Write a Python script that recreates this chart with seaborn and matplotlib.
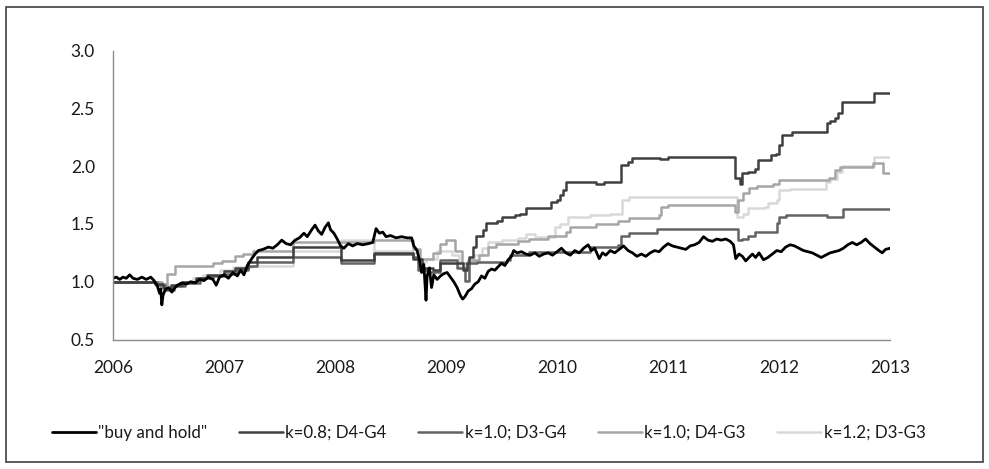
import matplotlib
matplotlib.use("Agg")
import matplotlib.pyplot as plt
import seaborn as sns
from matplotlib.patches import Rectangle

# "buy and hold" index (decimal year, value)
bh_years = [2006.00, 2006.03, 2006.06, 2006.09, 2006.12, 2006.15, 2006.18, 2006.22, 2006.26, 2006.30,
            2006.34, 2006.37, 2006.40, 2006.42, 2006.43, 2006.44, 2006.45, 2006.47, 2006.50, 2006.53,
            2006.55, 2006.58, 2006.62, 2006.66, 2006.70, 2006.74, 2006.78, 2006.82, 2006.86, 2006.90,
            2006.93, 2006.96, 2007.00, 2007.04, 2007.08, 2007.12, 2007.15, 2007.18, 2007.21, 2007.25,
            2007.28, 2007.31, 2007.35, 2007.40, 2007.44, 2007.48, 2007.52, 2007.56, 2007.60, 2007.64,
            2007.68, 2007.72, 2007.75, 2007.79, 2007.82, 2007.85, 2007.88, 2007.91, 2007.94, 2007.96,
            2007.99, 2008.02, 2008.05, 2008.08, 2008.12, 2008.16, 2008.20, 2008.25, 2008.30, 2008.34,
            2008.37, 2008.40, 2008.43, 2008.46, 2008.50, 2008.55, 2008.60, 2008.65, 2008.69, 2008.71,
            2008.74, 2008.76, 2008.78, 2008.80, 2008.82, 2008.83, 2008.85, 2008.87, 2008.89, 2008.92,
            2008.95, 2008.98, 2009.01, 2009.04, 2009.07, 2009.10, 2009.13, 2009.15, 2009.17, 2009.20,
            2009.23, 2009.26, 2009.29, 2009.32, 2009.35, 2009.38, 2009.41, 2009.44, 2009.47, 2009.50,
            2009.53, 2009.56, 2009.59, 2009.61, 2009.64, 2009.68, 2009.72, 2009.76, 2009.80, 2009.84,
            2009.88, 2009.92, 2009.96, 2010.00, 2010.04, 2010.08, 2010.12, 2010.16, 2010.20, 2010.24,
            2010.28, 2010.31, 2010.34, 2010.38, 2010.41, 2010.44, 2010.48, 2010.52, 2010.56, 2010.60,
            2010.64, 2010.68, 2010.72, 2010.76, 2010.80, 2010.84, 2010.88, 2010.92, 2010.96, 2011.00,
            2011.04, 2011.08, 2011.12, 2011.16, 2011.20, 2011.24, 2011.28, 2011.32, 2011.36, 2011.40,
            2011.44, 2011.48, 2011.52, 2011.56, 2011.59, 2011.61, 2011.64, 2011.67, 2011.70, 2011.73,
            2011.76, 2011.79, 2011.82, 2011.86, 2011.90, 2011.94, 2011.98, 2012.02, 2012.06, 2012.10,
            2012.14, 2012.18, 2012.22, 2012.26, 2012.30, 2012.34, 2012.38, 2012.42, 2012.46, 2012.50,
            2012.54, 2012.58, 2012.62, 2012.66, 2012.70, 2012.74, 2012.78, 2012.82, 2012.86, 2012.90,
            2012.93, 2012.96, 2013.00]
bh_values = [1.03, 1.04, 1.02, 1.04, 1.03, 1.06, 1.03, 1.02, 1.04, 1.02,
             1.04, 1.01, 0.96, 0.90, 0.94, 0.80, 0.88, 0.93, 0.95, 0.91,
             0.94, 0.97, 0.99, 0.98, 1.00, 0.99, 1.02, 1.01, 1.04, 1.02,
             0.97, 1.04, 1.06, 1.03, 1.08, 1.05, 1.10, 1.06, 1.14, 1.20,
             1.24, 1.27, 1.28, 1.30, 1.29, 1.32, 1.36, 1.33, 1.32, 1.36,
             1.38, 1.42, 1.39, 1.45, 1.49, 1.44, 1.41, 1.47, 1.51, 1.45,
             1.42, 1.37, 1.31, 1.29, 1.33, 1.31, 1.33, 1.32, 1.33, 1.34,
             1.46, 1.42, 1.43, 1.39, 1.40, 1.38, 1.39, 1.38, 1.38, 1.31,
             1.27, 1.19, 1.08, 1.15, 0.84, 1.05, 1.12, 0.95, 1.06, 1.02,
             1.05, 1.07, 1.08, 1.04, 1.00, 0.95, 0.88, 0.85, 0.87, 0.92,
             0.94, 0.98, 1.00, 1.05, 1.03, 1.09, 1.11, 1.10, 1.13, 1.16,
             1.14, 1.19, 1.22, 1.27, 1.25, 1.26, 1.24, 1.23, 1.25, 1.22,
             1.24, 1.25, 1.23, 1.26, 1.29, 1.25, 1.23, 1.27, 1.25, 1.29,
             1.32, 1.27, 1.29, 1.20, 1.25, 1.23, 1.27, 1.25, 1.28, 1.31,
             1.27, 1.25, 1.22, 1.24, 1.22, 1.25, 1.27, 1.26, 1.30, 1.33,
             1.31, 1.30, 1.29, 1.28, 1.31, 1.32, 1.34, 1.39, 1.36, 1.35,
             1.37, 1.36, 1.37, 1.35, 1.32, 1.20, 1.24, 1.22, 1.18, 1.21,
             1.24, 1.21, 1.25, 1.19, 1.21, 1.24, 1.27, 1.26, 1.30, 1.32,
             1.31, 1.29, 1.27, 1.26, 1.25, 1.23, 1.21, 1.23, 1.25, 1.26,
             1.27, 1.29, 1.32, 1.34, 1.32, 1.34, 1.37, 1.33, 1.30, 1.27,
             1.25, 1.28, 1.29]

# strategy curves: breakpoints of step functions (decimal year, value)
k08_d4g4_years = [2006.00, 2006.38, 2006.45, 2006.52, 2006.62, 2006.75, 2006.85, 2007.00, 2007.10, 2007.22,
                  2007.30, 2007.62, 2008.05, 2008.35, 2008.70, 2008.78, 2008.88, 2008.95, 2009.15, 2009.19,
                  2009.21, 2009.24, 2009.27, 2009.33, 2009.36, 2009.46, 2009.50, 2009.62, 2009.67, 2009.72,
                  2009.95, 2010.00, 2010.03, 2010.05, 2010.08, 2010.35, 2010.42, 2010.58, 2010.64, 2010.68,
                  2010.93, 2011.00, 2011.60, 2011.65, 2011.67, 2011.72, 2011.78, 2011.81, 2011.93, 2011.97,
                  2012.00, 2012.03, 2012.12, 2012.43, 2012.46, 2012.50, 2012.53, 2012.57, 2012.86, 2013.00]
k08_d4g4_values = [1.00, 0.98, 0.95, 0.97, 1.00, 1.03, 1.06, 1.09, 1.12, 1.17,
                   1.21, 1.30, 1.19, 1.25, 1.20, 1.12, 1.10, 1.16, 1.10, 1.16,
                   1.21, 1.30, 1.40, 1.45, 1.51, 1.53, 1.56, 1.58, 1.59, 1.64,
                   1.69, 1.71, 1.75, 1.79, 1.86, 1.85, 1.86, 2.01, 2.04, 2.07,
                   2.06, 2.08, 1.90, 1.85, 1.94, 1.95, 1.98, 2.05, 2.10, 2.11,
                   2.18, 2.27, 2.30, 2.37, 2.39, 2.42, 2.46, 2.56, 2.63, 2.63]

k10_d3g4_years = [2006.00, 2006.40, 2006.47, 2006.55, 2006.65, 2006.78, 2006.90, 2007.00, 2007.12, 2007.22,
                  2007.30, 2007.62, 2008.05, 2008.35, 2008.70, 2008.75, 2008.85, 2008.95, 2009.10, 2009.17,
                  2009.21, 2009.28, 2009.55, 2009.58, 2009.75, 2010.30, 2010.55, 2010.58, 2010.65, 2010.90,
                  2011.63, 2011.67, 2011.72, 2011.78, 2011.98, 2012.00, 2012.06, 2012.43, 2012.58, 2013.00]
k10_d3g4_values = [1.00, 0.97, 0.93, 0.96, 0.99, 1.03, 1.05, 1.07, 1.10, 1.14,
                   1.17, 1.21, 1.16, 1.24, 1.21, 1.10, 1.08, 1.19, 1.12, 1.01,
                   1.16, 1.17, 1.19, 1.23, 1.26, 1.30, 1.32, 1.40, 1.42, 1.46,
                   1.36, 1.37, 1.40, 1.43, 1.51, 1.56, 1.58, 1.56, 1.63, 1.63]

k10_d4g3_years = [2006.00, 2006.44, 2006.49, 2006.56, 2006.90, 2006.98, 2007.10, 2007.17, 2007.26, 2007.62,
                  2008.35, 2008.70, 2008.77, 2008.88, 2008.95, 2009.00, 2009.08, 2009.14, 2009.20, 2009.30,
                  2009.38, 2009.45, 2009.65, 2009.75, 2009.92, 2010.08, 2010.12, 2010.35, 2010.55, 2010.65,
                  2010.92, 2010.94, 2011.00, 2011.60, 2011.63, 2011.68, 2011.73, 2011.80, 2011.95, 2012.00,
                  2012.45, 2012.50, 2012.55, 2012.85, 2012.94, 2013.00]
k10_d4g3_values = [1.00, 0.98, 1.07, 1.14, 1.16, 1.18, 1.22, 1.24, 1.27, 1.34,
                   1.36, 1.28, 1.20, 1.25, 1.33, 1.36, 1.27, 1.16, 1.19, 1.23,
                   1.30, 1.33, 1.35, 1.37, 1.40, 1.43, 1.47, 1.50, 1.53, 1.55,
                   1.58, 1.65, 1.66, 1.60, 1.71, 1.77, 1.81, 1.83, 1.85, 1.88,
                   1.90, 1.97, 1.99, 2.03, 1.94, 1.94]

k12_d3g3_years = [2006.00, 2006.42, 2006.50, 2006.60, 2006.72, 2006.81, 2006.96, 2007.08, 2007.25, 2007.62,
                  2008.05, 2008.35, 2008.70, 2008.76, 2008.82, 2008.92, 2009.05, 2009.12, 2009.17, 2009.25,
                  2009.32, 2009.38, 2009.50, 2009.65, 2009.72, 2009.80, 2009.98, 2010.03, 2010.10, 2010.30,
                  2010.48, 2010.59, 2010.65, 2011.60, 2011.62, 2011.68, 2011.72, 2011.87, 2011.90, 2011.98,
                  2012.00, 2012.10, 2012.42, 2012.46, 2012.52, 2012.57, 2012.86, 2013.00]
k12_d3g3_values = [1.00, 0.97, 0.96, 0.99, 1.03, 1.06, 1.10, 1.13, 1.14, 1.27,
                   1.36, 1.27, 1.25, 1.17, 1.20, 1.27, 1.23, 1.12, 1.16, 1.23,
                   1.29, 1.34, 1.36, 1.38, 1.41, 1.39, 1.47, 1.50, 1.56, 1.58,
                   1.59, 1.71, 1.73, 1.73, 1.56, 1.59, 1.64, 1.65, 1.68, 1.71,
                   1.79, 1.80, 1.86, 1.89, 1.95, 2.00, 2.08, 2.08]

year_ticks = [2006, 2007, 2008, 2009, 2010, 2011, 2012, 2013]
value_ticks = [0.5, 1.0, 1.5, 2.0, 2.5, 3.0]

sns.set_style("white")
plt.rcParams["font.family"] = ["Lato", "DejaVu Sans"]

fig = plt.figure(figsize=(9.89, 4.69), dpi=100)
ax = fig.add_axes([113 / 989, 1 - 339.5 / 469, (890 - 113) / 989, (339.5 - 50.7) / 469])

axis_gray = "#8c8c8c"
text_color = "#1a1a1a"

steps = [
    (k08_d4g4_years, k08_d4g4_values, "k=0.8; D4-G4", "#404040"),
    (k10_d3g4_years, k10_d3g4_values, "k=1.0; D3-G4", "#636363"),
    (k10_d4g3_years, k10_d4g3_values, "k=1.0; D4-G3", "#a6a6a6"),
    (k12_d3g3_years, k12_d3g3_values, "k=1.2; D3-G3", "#d9d9d9"),
]

# draw the lightest first so darker lines sit on top
for yrs, vals, lab, col in reversed(steps):
    sns.lineplot(x=yrs, y=vals, ax=ax, color=col, lw=1.8, label=lab,
                 drawstyle="steps-post", estimator=None, sort=False)
sns.lineplot(x=bh_years, y=bh_values, ax=ax, color="black", lw=2.0,
             label='"buy and hold"', estimator=None, sort=False)

ax.set_xlim(2006, 2013)
ax.set_ylim(0.5, 3.0)
ax.set_xticks(year_ticks)
ax.set_xticklabels([str(y) for y in year_ticks])
ax.set_yticks(value_ticks)
ax.set_yticklabels([f"{v:.1f}" for v in value_ticks])
ax.set_xlabel("")
ax.set_ylabel("")
for side in ["top", "right"]:
    ax.spines[side].set_visible(False)
for side in ["left", "bottom"]:
    ax.spines[side].set_color(axis_gray)
    ax.spines[side].set_linewidth(1.0)
ax.tick_params(axis="both", which="major", direction="out", length=5, width=1.0,
               color=axis_gray, labelcolor=text_color, labelsize=12.5)
ax.tick_params(axis="x", pad=10)
ax.tick_params(axis="y", pad=8)
ax.grid(False)

handles, labels = ax.get_legend_handles_labels()
order = ['"buy and hold"', "k=0.8; D4-G4", "k=1.0; D3-G4", "k=1.0; D4-G3", "k=1.2; D3-G3"]
hmap = dict(zip(labels, handles))
ax.get_legend().remove()
fig.legend([hmap[l] for l in order], order, loc="center", ncol=5,
           bbox_to_anchor=(0.494, 1 - 433 / 469), frameon=False, fontsize=12.2,
           handlelength=2.6, handletextpad=0.15, columnspacing=1.85, labelcolor=text_color)

# chart-area border
fig.patches.append(Rectangle((6 / 989, 7 / 469), 977 / 989, 455 / 469, transform=fig.transFigure,
                             fill=False, edgecolor="#404040", lw=1.2))

fig.savefig("out.png", dpi=100)
